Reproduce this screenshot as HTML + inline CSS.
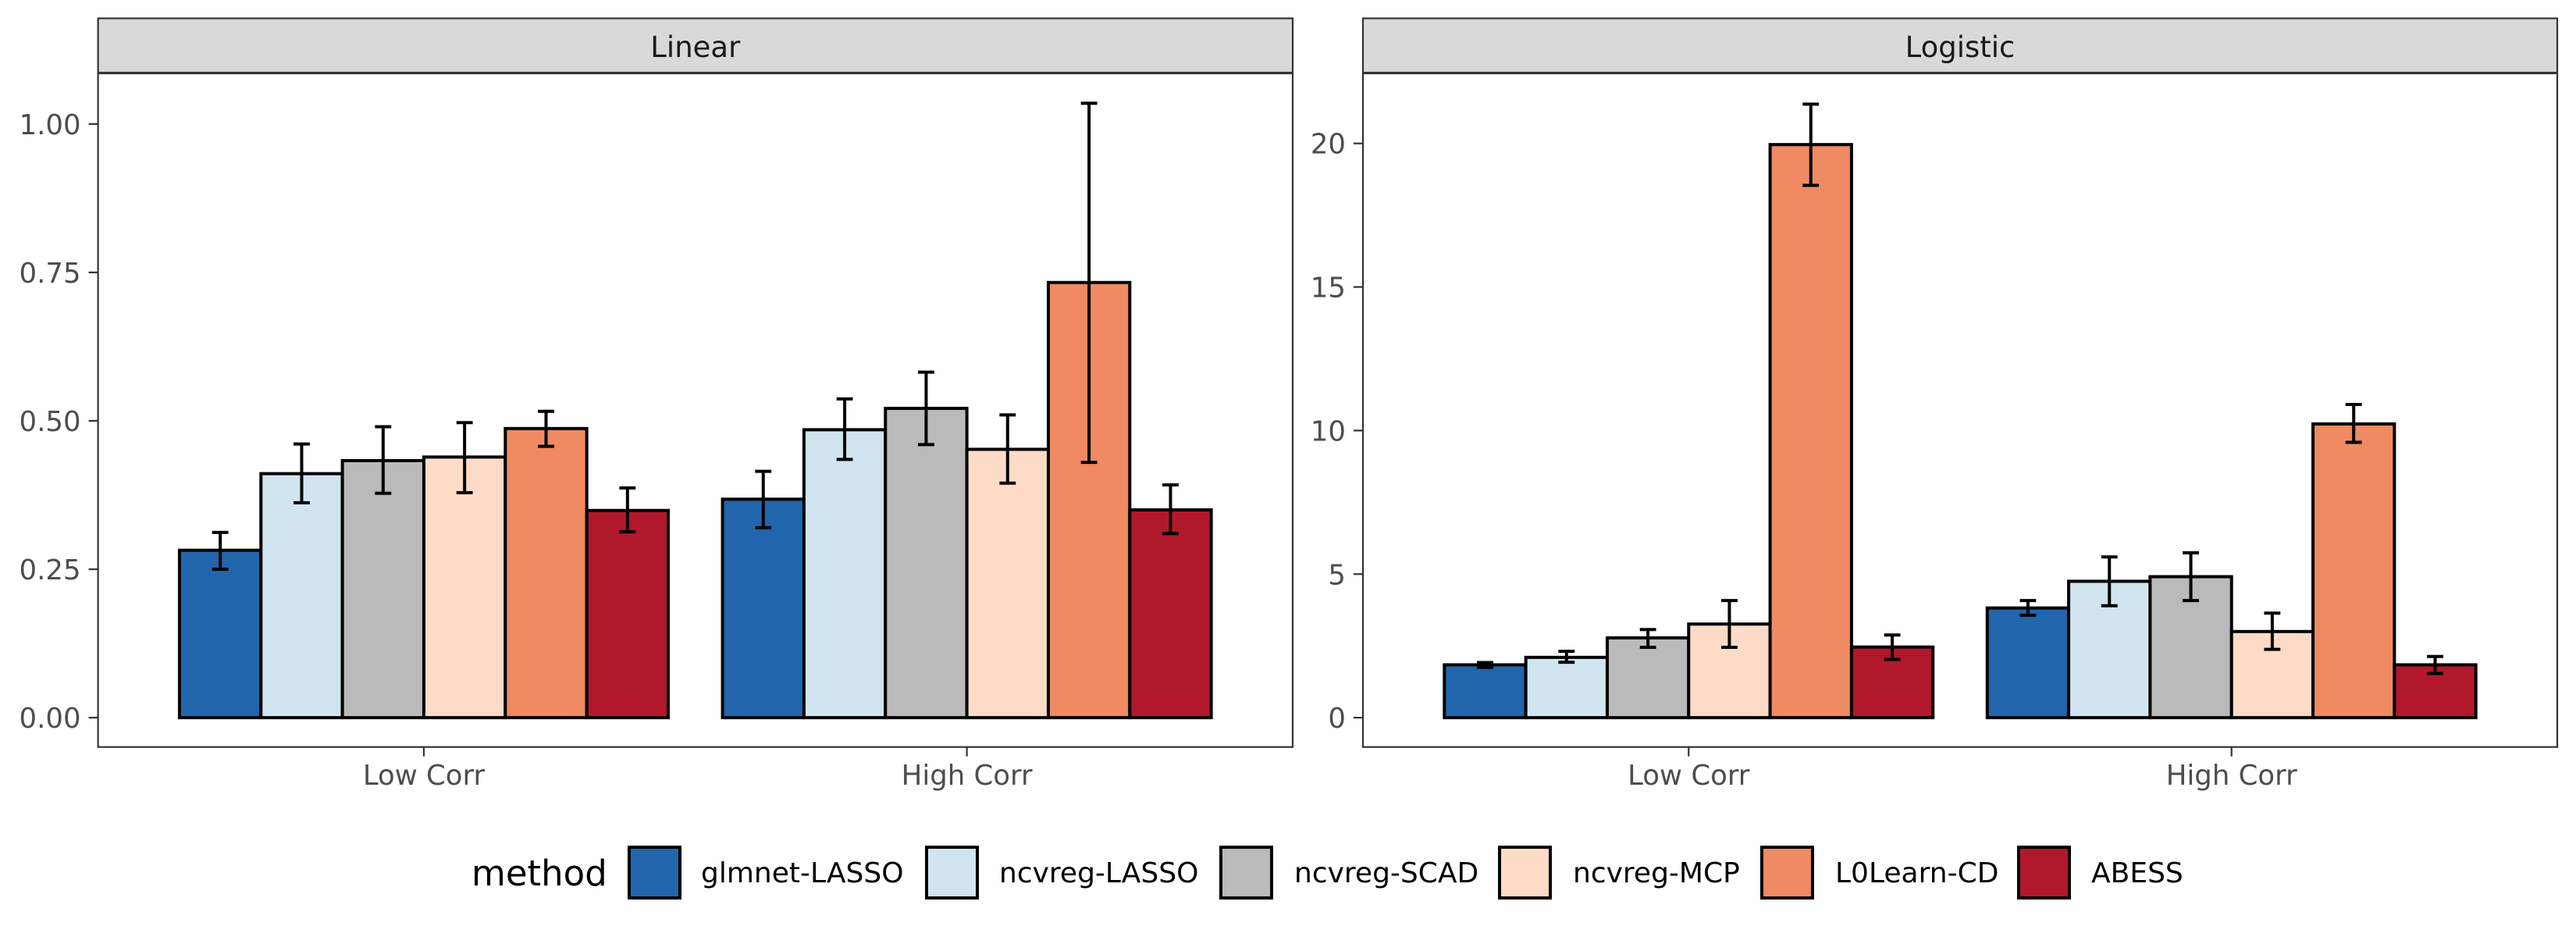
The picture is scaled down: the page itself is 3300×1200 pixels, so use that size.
<!DOCTYPE html>
<html>
<head>
<meta charset="utf-8">
<style>
html,body{margin:0;padding:0;background:#fff;}
svg{display:block;}
text{font-family:"DejaVu Sans","Liberation Sans",sans-serif;}
</style>
</head>
<body>
<svg id="chart" width="3300" height="1200" viewBox="0 0 3300 1200" xmlns="http://www.w3.org/2000/svg"></svg>
<script>
const methods = ["glmnet-LASSO","ncvreg-LASSO","ncvreg-SCAD","ncvreg-MCP","L0Learn-CD","ABESS"];
const colors = ["#2166AC","#D1E5F0","#BABABA","#FDDBC7","#EF8A62","#B2182B"];
const categories = ["Low Corr","High Corr"];
const linearLowMean = [0.282,0.411,0.433,0.439,0.487,0.349];
const linearLowLo = [0.250,0.362,0.378,0.379,0.457,0.313];
const linearLowHi = [0.312,0.461,0.490,0.497,0.516,0.387];
const linearHighMean = [0.368,0.485,0.521,0.452,0.733,0.350];
const linearHighLo = [0.320,0.435,0.460,0.395,0.430,0.310];
const linearHighHi = [0.415,0.537,0.582,0.510,1.035,0.392];
const logisticLowMean = [1.84,2.10,2.78,3.26,19.96,2.46];
const logisticLowLo = [1.75,1.93,2.45,2.45,18.54,2.03];
const logisticLowHi = [1.92,2.31,3.07,4.08,21.37,2.88];
const logisticHighMean = [3.82,4.75,4.91,3.00,10.23,1.84];
const logisticHighLo = [3.57,3.90,4.08,2.38,9.59,1.54];
const logisticHighHi = [4.08,5.60,5.74,3.64,10.91,2.13];
const linearTicks = [0,0.25,0.5,0.75,1.0];
const linearTickLabels = ["0.00","0.25","0.50","0.75","1.00"];
const logisticTicks = [0,5,10,15,20];
const logisticTickLabels = ["0","5","10","15","20"];

const NS = "http://www.w3.org/2000/svg";
const svg = document.getElementById('chart');
function mk(tag, attrs, parent){
  const e = document.createElementNS(NS, tag);
  for (const k in attrs) e.setAttribute(k, attrs[k]);
  (parent||svg).appendChild(e);
  return e;
}

const panels = [
  {title:"Linear", left:125.6, right:1656, yMin:-0.0786, yMax:1.13, ticks:linearTicks, labels:linearTickLabels,
   data:[[linearLowMean,linearLowLo,linearLowHi],[linearHighMean,linearHighLo,linearHighHi]], name:"linear"},
  {title:"Logistic", left:1746, right:3276, yMin:-1.6, yMax:23.0, ticks:logisticTicks, labels:logisticTickLabels,
   data:[[logisticLowMean,logisticLowLo,logisticLowHi],[logisticHighMean,logisticHighLo,logisticHighHi]], name:"logistic"}
];
const plotTop = 94, plotBottom = 956.7;
const y0px = 919.1;

panels.forEach(p=>{
  // y scale: calibrated so that 0 -> 919.1 and top tick at measured pixel
  const topVal = p.ticks[p.ticks.length-1];
  const topPx = p.name==="linear" ? 158.8 : 183.7;
  const yS = v => y0px - (v/topVal)*(y0px-topPx);
  const width = p.right - p.left;
  const xS = c => p.left + (c - 0.4)/2.2*width; // categories at 1,2 ; range 0.4..2.6
  const g = mk('g',{});
  
  
  mk('rect',{x:p.left,y:plotTop,width:width,height:plotBottom-plotTop,fill:'#fff'},g);
  // bars
  const catW = width/2.2;
  const barW = catW*0.9/6;
  p.data.forEach((d,ci)=>{
    const cx = xS(ci+1);
    const start = cx - catW*0.45;
    d[0].forEach((v,mi)=>{
      const bx = start + mi*barW;
      const r = mk('rect',{x:bx,y:yS(v),width:barW,height:yS(0)-yS(v),fill:colors[mi],stroke:'#000','stroke-width':4},g);
      
      
    });
    d[0].forEach((v,mi)=>{
      const mx = start + mi*barW + barW/2;
      const lo = yS(d[1][mi]), hi = yS(d[2][mi]);
      const hw = barW*0.1;
      const eg = mk('g',{stroke:'#000','stroke-width':4,fill:'none'},g);
      
      
      mk('line',{x1:mx,x2:mx,y1:lo,y2:hi},eg);
      mk('line',{x1:mx-hw,x2:mx+hw,y1:lo,y2:lo},eg);
      mk('line',{x1:mx-hw,x2:mx+hw,y1:hi,y2:hi},eg);
    });
  });
  // border
  mk('rect',{x:p.left,y:plotTop,width:width,height:plotBottom-plotTop,fill:'none',stroke:'#333','stroke-width':2.2},g);
  // strip
  const st = mk('rect',{x:p.left,y:23.5,width:width,height:69.5,fill:'#D9D9D9',stroke:'#333','stroke-width':2.2},g);
  
  
  const stt = mk('text',{x:(p.left+p.right)/2,y:73,'text-anchor':'middle','font-size':37,fill:'#1A1A1A'},g);
  stt.textContent = p.title;
  
  
  // y ticks
  p.ticks.forEach((t,i)=>{
    const yy = yS(t);
    mk('line',{x1:p.left-12,x2:p.left,y1:yy,y2:yy,stroke:'#333','stroke-width':2.2},g);
    const tl = mk('text',{x:p.left-22,y:yy+13,'text-anchor':'end','font-size':35.5,fill:'#4D4D4D'},g);
    tl.textContent = p.labels[i];
    
    
  });
  // x ticks
  categories.forEach((c,i)=>{
    const xx = xS(i+1);
    mk('line',{x1:xx,x2:xx,y1:plotBottom,y2:plotBottom+12,stroke:'#333','stroke-width':2.2},g);
    const xl = mk('text',{x:xx,y:1005,'text-anchor':'middle','font-size':35.5,fill:'#4D4D4D'},g);
    xl.textContent = c;
    
    
  });
});

// legend
const lg = mk('g',{});


const ltitle = mk('text',{x:604,y:1134,'font-size':45,fill:'#000'},lg);
ltitle.textContent = 'method';


const keyX = [806,1187,1564,1921,2257,2586];
const labX = [898,1280,1658,2015,2351,2679];
methods.forEach((m,i)=>{
  const e = mk('g',{},lg);
  
  
  mk('rect',{x:keyX[i],y:1085,width:65,height:65,fill:colors[i],stroke:'#000','stroke-width':4},e);
  const t = mk('text',{x:labX[i],y:1130,'font-size':36,fill:'#000'},e);
  t.textContent = m;
});
</script>
</body>
</html>
